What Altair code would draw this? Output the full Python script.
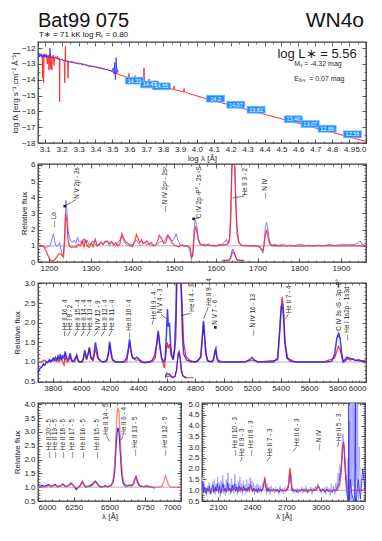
import altair as alt
import pandas as pd

FONT = "Liberation Sans"
INK = "#3c3c3c"
TXT = "#1e1e1e"
GRAY = "#a0a0a0"

# ---------------- header texts ----------------
star_name = ["Bat99 075"]
subtype = ["WN4o"]
params_line = ["T\u2217 =  71 kK   log R\u209c = 0.80"]
lum_label = [("log L\u2217 = 5.56", 4.945, -12.40)]
mv_parts = [("M", "v", "= -4.32 mag", 4.575, -13.03)]
ebv_parts = [("E", "b-v", "= 0.07 mag", 4.575, -13.98)]
cont_level = [1.0]

# ---------------- panel 1: SED (log lambda, log f) ----------------
sed_model = [(3.060,-12.45),(3.070,-12.48),(3.080,-12.40),(3.085,-12.52),(3.088,-13.90),(3.090,-12.50),
 (3.093,-14.20),(3.096,-12.45),(3.100,-12.35),(3.105,-12.55),(3.110,-12.40),(3.115,-13.00),(3.118,-12.50),
 (3.122,-12.60),(3.125,-13.40),(3.128,-12.55),(3.132,-12.35),(3.135,-13.30),(3.138,-12.60),(3.142,-13.40),
 (3.145,-12.60),(3.150,-12.45),(3.155,-13.10),(3.158,-12.60),(3.165,-12.55),(3.170,-12.65),(3.175,-12.50),
 (3.180,-12.70),(3.186,-12.65),(3.188,-15.40),(3.190,-12.70),(3.196,-12.75),(3.200,-12.70),(3.210,-12.80),
 (3.215,-12.75),(3.218,-14.20),(3.220,-12.80),(3.222,-11.90),(3.224,-12.80),(3.230,-12.85),(3.236,-12.80),
 (3.238,-13.90),(3.240,-12.85),(3.250,-12.90),(3.260,-12.85),(3.280,-12.95),(3.300,-12.95),(3.320,-13.00),
 (3.340,-13.05),(3.360,-13.15),(3.380,-13.15),(3.400,-13.20),(3.420,-13.25),(3.440,-13.30),(3.460,-13.35),
 (3.480,-13.40),(3.500,-13.50),(3.520,-13.60),(3.540,-13.68),(3.560,-13.75),(3.580,-13.82),(3.596,-13.88),
 (3.598,-13.60),(3.600,-13.90),(3.620,-13.95),(3.632,-14.00),(3.634,-13.75),(3.636,-14.00),(3.660,-14.07),
 (3.685,-14.15),(3.687,-13.25),(3.689,-14.15),(3.700,-14.18),(3.715,-14.22),(3.717,-13.95),(3.719,-14.22),
 (3.735,-14.28),(3.750,-14.32),(3.752,-14.05),(3.754,-14.32),(3.780,-14.40),(3.804,-14.47),(3.806,-14.20),
 (3.808,-14.47),(3.833,-14.54),(3.835,-14.30),(3.837,-14.54),(3.863,-14.62),(3.865,-14.40),(3.867,-14.62),
 (3.900,-14.72),(3.922,-14.78),(3.924,-14.55),(3.926,-14.78),(3.950,-14.86),(4.000,-15.03),(4.100,-15.33),
 (4.200,-15.62),(4.300,-15.90),(4.400,-16.19),(4.500,-16.47),(4.600,-16.76),(4.700,-17.05),(4.800,-17.33),
 (4.900,-17.62),(5.000,-17.90)]
sed_obs = [(3.060,-12.50),(3.064,-12.30),(3.068,-12.55),(3.072,-12.35),(3.076,-12.52),(3.080,-12.38),
 (3.084,-12.60),(3.088,-12.42),(3.092,-12.55),(3.096,-12.40),(3.100,-12.58),(3.104,-12.45),(3.108,-12.62),
 (3.112,-12.48),(3.116,-12.55),(3.120,-12.45),(3.124,-12.60),(3.128,-12.50),(3.131,-12.00),(3.134,-12.62),
 (3.138,-12.52),(3.142,-12.60),(3.146,-12.55),(3.150,-12.64),(3.155,-12.58),(3.160,-12.66),(3.165,-12.60),
 (3.170,-12.68),(3.175,-12.62),(3.180,-12.72),(3.185,-12.66),(3.190,-12.74),(3.195,-12.70),(3.200,-12.76),
 (3.205,-12.72),(3.210,-12.80),(3.215,-12.76),(3.220,-12.82),(3.225,-12.78),(3.230,-12.86),(3.235,-12.82),
 (3.240,-12.88),(3.250,-12.86),(3.260,-12.92),(3.270,-12.90),(3.280,-12.98),(3.290,-12.96),(3.300,-13.02),
 (3.310,-12.98),(3.320,-13.06),(3.330,-13.02),(3.340,-13.10),(3.350,-13.06),(3.360,-13.14),(3.370,-13.10),
 (3.380,-13.18),(3.390,-13.14),(3.400,-13.22),(3.410,-13.20),(3.420,-13.28),(3.430,-13.24),(3.440,-13.32),
 (3.450,-13.30),(3.460,-13.38),(3.470,-13.34),(3.480,-13.42),(3.490,-13.40),(3.500,-13.48),(3.505,-13.25),
 (3.510,-13.65),(3.514,-12.90),(3.518,-14.00),(3.522,-12.60),(3.526,-13.60),(3.530,-13.35),(3.535,-13.55)]
phot_x = [3.63, 3.72, 3.79, 4.11, 4.23, 4.35, 4.57, 4.67, 4.77, 4.92]
phot_y = [-14.06, -14.30, -14.42, -15.20, -15.58, -15.90, -16.50, -16.80, -17.10, -17.45]
phot_lbl = ["14.31", "14.43", "14.55", "14.2", "14.07", "13.82", "13.46", "13.07", "12.86", "12.56"]

# ---------------- panel 2: UV ----------------
uv_obs = [(1174,0.95),(1180,1.0),(1186,0.98),(1192,0.9),(1198,0.95),(1203,1.0),(1208,1.5),(1211,1.75),
 (1214,1.3),(1218,0.95),(1222,1.0),(1226,1.2),(1229,0.8),(1232,0.45),(1235,0.5),(1238,1.8),(1241,3.8),
 (1243,3.3),(1246,2.0),(1249,1.5),(1253,1.3),(1257,1.2),(1261,1.35),(1265,1.15),(1269,1.55),(1272,1.25),
 (1276,1.3),(1280,1.1),(1284,1.45),(1288,1.2),(1292,1.35),(1296,1.05),(1300,1.1),(1305,1.3),(1310,1.15),
 (1315,1.0),(1320,1.1),(1325,1.25),(1330,1.05),(1335,1.3),(1340,1.2),(1345,1.0),(1350,1.25),(1355,1.1),
 (1360,1.0),(1365,1.2),(1370,1.35),(1375,1.6),(1380,1.3),(1385,1.1),(1390,1.0),(1395,1.1),(1400,1.05),
 (1405,1.2),(1410,1.35),(1415,1.15),(1420,1.0),(1425,1.1),(1430,1.2),(1435,1.05),(1440,1.15),(1445,1.0),
 (1450,1.05),(1455,1.0),(1460,1.1),(1465,1.2),(1470,1.3),(1475,1.25),(1480,1.45),(1485,1.7),(1490,1.5),
 (1495,1.3),(1500,1.4),(1505,1.75),(1510,1.3),(1515,1.05),(1520,1.0),(1525,0.95),(1530,1.0),(1535,0.9),
 (1539,0.6),(1542,0.15),(1545,0.6),(1548,2.0),(1551,2.6),(1554,2.3),(1558,1.5),(1562,1.15),(1567,1.05),
 (1572,1.1),(1578,1.05),(1585,1.0),(1592,1.05),(1600,1.0),(1608,1.05),(1615,1.1),(1620,1.2),(1625,1.4),
 (1629,1.15),(1633,1.5),(1636,3.2),(1639,6.3),(1642,6.3),(1645,6.3),(1648,4.0),(1651,2.2),(1655,1.3),
 (1660,1.05),(1666,1.0),(1672,1.05),(1680,1.0),(1690,0.98),(1700,1.0),(1706,0.95),(1710,0.8),(1713,0.55),
 (1716,1.2),(1719,2.2),(1722,2.45),(1725,2.0),(1728,1.4),(1732,1.1),(1737,1.05),(1742,1.1),(1748,1.0),
 (1755,1.05),(1762,1.1),(1770,1.0),(1778,1.05),(1786,1.0),(1795,1.05),(1805,1.1),(1815,1.0),(1825,1.05),
 (1835,0.98),(1845,1.05),(1855,1.0),(1865,1.05),(1875,1.08),(1885,1.02),(1895,1.05),(1905,1.1),(1915,1.05),
 (1925,1.08),(1935,1.1),(1942,1.2),(1946,1.3),(1950,1.1),(1955,1.05),(1960,1.02)]
uv_model = [(1174,1.0),(1182,1.02),(1188,0.95),(1193,0.7),(1198,0.4),(1203,0.15),(1207,0.05),(1212,0.1),
 (1216,0.2),(1220,0.35),(1224,0.5),(1228,0.5),(1232,0.4),(1235,0.3),(1238,1.3),(1240,3.0),(1243,2.6),
 (1246,1.4),(1249,1.0),(1254,0.9),(1260,0.95),(1265,0.9),(1270,1.1),(1275,1.0),(1280,1.3),(1284,0.95),
 (1288,1.4),(1292,1.0),(1297,0.9),(1302,1.2),(1306,0.95),(1311,1.4),(1316,1.0),(1320,1.05),(1325,1.2),
 (1330,1.1),(1335,1.25),(1340,1.3),(1345,1.15),(1350,1.25),(1355,1.05),(1360,1.2),(1365,1.0),(1370,1.1),
 (1375,1.75),(1379,1.45),(1384,1.25),(1390,1.15),(1395,1.0),(1400,0.95),(1405,1.2),(1410,1.7),(1414,1.45),
 (1418,1.2),(1422,1.35),(1426,1.15),(1430,1.2),(1435,1.3),(1440,1.1),(1445,1.2),(1450,1.0),(1455,1.05),
 (1460,1.25),(1465,1.65),(1470,1.45),(1475,1.15),(1480,1.2),(1485,1.6),(1490,1.45),(1495,1.2),(1500,1.05),
 (1505,1.0),(1510,0.95),(1515,1.0),(1520,1.05),(1525,1.0),(1530,1.0),(1535,0.95),(1539,0.85),(1542,0.3),
 (1545,0.4),(1548,1.5),(1551,2.2),(1554,2.0),(1558,1.4),(1562,1.1),(1568,1.05),(1575,1.0),(1582,1.1),
 (1590,1.0),(1600,1.0),(1610,1.05),(1620,1.05),(1628,1.1),(1633,1.3),(1636,2.8),(1639,6.3),(1642,6.3),
 (1645,6.3),(1648,3.5),(1651,1.8),(1655,1.2),(1660,1.05),(1670,1.0),(1690,1.0),(1700,0.98),(1706,0.9),
 (1710,0.75),(1713,0.7),(1716,1.1),(1719,1.7),(1722,2.0),(1725,1.6),(1729,1.1),(1735,1.0),(1745,1.02),
 (1760,1.0),(1800,0.98),(1850,1.0),(1900,1.0),(1960,1.0)]
uv_inset_obs = [(1616,0.1),(1625,0.1),(1632,0.12),(1636,0.3),(1640,0.8),(1644,0.6),(1648,0.25),(1652,0.12),(1660,0.1),(1668,0.1)]
uv_inset_model = [(1616,0.1),(1632,0.12),(1636,0.25),(1640,0.6),(1644,0.55),(1648,0.3),(1652,0.12),(1668,0.1)]
uv_labels = [("\u2014 L\u03b1", 1212, 2.15), ("N V 2p - 2s", 1267, 3.9), ("\u2014 N IV 2p\u00b2 - 2s\u00b2", 1479, 3.07),
 ("C IV 2p \u00b2P\u00b0 - 2s \u00b2S", 1561, 2.7), ("He II 3 - 2", 1671, 4.1), ("\u2014 N IV", 1719, 3.9)]
uv_pointers = [(1238, 3.45, 1265, 3.85), (1547, 2.66, 1559, 2.72), (1640, 3.95, 1669, 4.08)]
uv_dots = [(1238, 3.45), (1547, 2.66)]

# ---------------- panel 3: optical ----------------
opt_obs = [(3697,0.72),(3705,0.8),(3715,0.85),(3725,0.88),(3735,0.95),(3745,0.92),(3755,1.0),(3765,0.98),
 (3775,1.05),(3785,1.0),(3795,1.05),(3805,1.1),(3812,1.05),(3820,1.12),(3830,1.05),(3838,1.15),(3846,1.08),
 (3854,1.2),(3862,1.05),(3870,1.15),(3878,1.1),(3888,1.27),(3898,1.1),(3905,1.05),(3915,1.12),(3923,1.22),
 (3932,1.05),(3945,1.02),(3958,1.08),(3968,1.18),(3978,1.05),(3990,1.0),(4005,1.0),(4015,1.08),(4026,1.3),
 (4036,1.1),(4045,1.15),(4058,1.35),(4068,1.1),(4080,1.05),(4090,1.2),(4100,1.5),(4110,1.3),(4120,1.1),
 (4140,1.02),(4160,1.0),(4180,1.05),(4192,1.2),(4200,1.52),(4208,1.3),(4220,1.05),(4240,1.0),(4270,1.0),
 (4300,1.0),(4320,1.1),(4332,1.35),(4340,1.58),(4348,1.35),(4360,1.1),(4375,1.08),(4390,1.12),(4405,1.08),
 (4420,1.0),(4450,0.98),(4480,1.0),(4500,1.05),(4515,1.15),(4530,1.45),(4541,1.8),(4552,1.45),(4565,1.1),
 (4580,1.0),(4590,1.1),(4600,1.8),(4606,2.35),(4612,1.9),(4620,2.0),(4627,1.5),(4635,1.2),(4645,1.05),
 (4655,1.3),(4665,2.2),(4672,3.5),(4680,3.5),(4695,3.5),(4705,2.6),(4712,1.6),(4720,1.2),(4740,1.05),
 (4760,1.02),(4780,1.0),(4800,1.0),(4820,1.02),(4840,1.15),(4850,1.6),(4859,2.05),(4866,1.7),(4875,1.2),
 (4890,1.02),(4910,1.0),(4930,1.05),(4940,1.3),(4946,1.35),(4952,1.15),(4965,1.0),(5000,1.0),(5050,1.0),
 (5100,1.0),(5150,1.0),(5180,1.05),(5200,1.12),(5215,1.05),(5240,1.0),(5300,1.0),(5350,1.0),(5380,1.1),
 (5395,1.8),(5405,2.4),(5412,2.45),(5420,2.2),(5430,1.5),(5445,1.1),(5470,1.02),(5520,1.0),(5600,1.0),
 (5660,1.0),(5720,1.0),(5760,1.02),(5780,1.2),(5795,1.6),(5806,1.72),(5818,1.6),(5830,1.2),(5840,1.0),
 (5850,1.05),(5865,1.12),(5880,1.1),(5900,1.08),(5920,1.05),(5950,1.03),(5980,1.02),(6000,1.0)]
opt_model = [(3697,1.0),(3720,1.0),(3740,1.05),(3760,1.0),(3780,1.05),(3800,1.02),(3812,1.08),(3825,1.0),
 (3835,1.1),(3845,1.0),(3858,1.12),(3870,1.0),(3880,0.92),(3888,1.2),(3895,1.0),(3910,1.0),(3923,1.15),
 (3935,1.0),(3955,1.0),(3968,1.15),(3980,1.0),(4010,1.0),(4026,1.25),(4040,1.05),(4058,1.38),(4070,1.1),
 (4085,1.05),(4100,1.33),(4115,1.1),(4140,1.0),(4180,1.0),(4200,1.45),(4215,1.1),(4240,1.0),(4320,1.0),
 (4340,1.5),(4355,1.15),(4380,1.05),(4400,1.05),(4450,1.0),(4500,1.0),(4520,1.1),(4541,1.75),(4555,1.3),
 (4570,1.0),(4585,0.85),(4595,1.2),(4604,1.5),(4612,1.35),(4620,1.45),(4632,1.15),(4650,1.1),(4665,1.6),
 (4675,3.5),(4695,3.5),(4710,2.4),(4720,1.5),(4735,1.15),(4760,1.05),(4800,1.0),(4840,1.1),(4859,2.0),
 (4870,1.5),(4885,1.05),(4920,1.0),(4945,1.28),(4955,1.05),(5000,1.0),(5150,1.0),(5200,1.05),(5250,1.0),
 (5380,1.05),(5400,2.2),(5411,2.65),(5420,2.4),(5432,1.5),(5450,1.1),(5500,1.0),(5700,1.0),(5780,1.1),
 (5806,1.4),(5820,1.3),(5835,1.05),(5850,1.0),(5870,1.08),(5890,1.05),(5910,1.08),(5930,1.03),(5950,1.07),
 (5970,1.02),(6000,1.05)]
opt_inset_obs = [(4590,0.62),(4600,0.72),(4610,0.68),(4620,0.7),(4630,0.65),(4640,0.62),(4650,0.62),(4660,0.65),
 (4670,0.8),(4678,1.1),(4686,1.27),(4694,1.1),(4702,0.8),(4712,0.65),(4725,0.62),(4740,0.6)]
opt_inset_model = [(4590,0.6),(4600,0.65),(4610,0.62),(4620,0.65),(4640,0.6),(4660,0.62),(4672,0.85),(4680,1.2),
 (4688,1.27),(4695,1.15),(4705,0.8),(4715,0.65),(4730,0.6),(4760,0.6),(4790,0.6)]
opt_labels = [("He II 16 - 4", 3884, 1.80), ("He I 8 - 2", 3924, 1.80), ("He II 15 - 4", 3976, 1.80),
 ("He II 14 - 4", 4022, 1.80), ("He II 13 - 4", 4064, 1.80), ("N IV 12 - 9", 4118, 1.80),
 ("He II 12 - 4", 4165, 1.80), ("He II 11 - 4", 4217, 1.80), ("\u2014 He II 10 - 4", 4334, 1.59),
 ("He II 9 - 4", 4509, 2.09), ("N V 4 - 3", 4556, 2.24), ("He II 4 - 3", 4778, 2.28),
 ("He II 8 - 4", 4896, 2.43), ("N V 7 - 6", 4942, 1.95), ("\u2014 N IV 16 - 13", 5205, 1.67),
 ("He II 7 - 4", 5458, 2.24), ("\u2014 C IV 3s \u00b2S - 3p \u00b2P\u00b0", 5809, 1.59),
 ("\u2014 He I 1s2p - 1s3d", 5867, 1.54)]
opt_pointers = [(3884,1.66,3884,1.79),(3905,1.66,3924,1.79),(3955,1.66,3976,1.79),(4000,1.66,4022,1.79),
 (4040,1.66,4064,1.79),(4090,1.66,4118,1.79),(4140,1.66,4165,1.79),(4195,1.66,4217,1.79),
 (4498,1.95,4509,2.08),(4560,2.22,4598,2.1),(4700,2.18,4772,2.24),(4860,2.1,4893,2.4),(5435,2.1,5455,2.22)]
opt_dots = [(4942, 1.88)]

# ---------------- panel 4: red optical ----------------
red_obs = [(6000,1.05),(6015,1.03),(6030,1.07),(6045,1.02),(6060,1.06),(6075,1.1),(6090,1.03),(6105,1.05),
 (6120,1.1),(6135,1.02),(6150,1.04),(6165,1.06),(6175,1.12),(6188,1.04),(6200,1.03),(6215,1.06),(6230,1.15),
 (6242,1.1),(6255,1.0),(6268,0.92),(6282,1.0),(6296,1.06),(6310,1.2),(6322,1.08),(6335,1.0),(6350,1.03),
 (6365,1.06),(6380,1.1),(6392,1.18),(6402,1.22),(6412,1.15),(6425,1.05),(6440,1.0),(6455,1.02),(6470,1.05),
 (6485,1.01),(6500,1.04),(6512,1.06),(6525,1.2),(6535,1.5),(6545,2.4),(6553,3.0),(6560,3.15),(6567,3.0),
 (6575,2.3),(6585,1.5),(6595,1.15),(6610,1.05),(6625,1.04),(6640,1.08),(6655,1.05),(6668,1.12),(6678,1.3),
 (6686,1.38),(6695,1.2),(6705,1.08),(6720,1.03),(6740,1.02),(6760,1.05),(6780,1.02),(6800,0.99),(6815,0.97)]
red_model = [(6000,1.02),(6030,1.03),(6060,1.01),(6075,1.06),(6090,1.01),(6120,1.08),(6140,1.01),(6175,1.1),
 (6195,1.01),(6236,1.12),(6255,1.02),(6270,0.97),(6290,1.02),(6310,1.22),(6325,1.05),(6360,1.02),(6380,1.06),
 (6402,1.2),(6420,1.06),(6450,1.02),(6500,1.04),(6520,1.12),(6530,1.4),(6540,2.2),(6550,3.4),(6558,3.85),
 (6565,3.8),(6573,3.0),(6582,2.0),(6592,1.35),(6605,1.12),(6625,1.05),(6650,1.05),(6670,1.15),(6683,1.38),
 (6695,1.25),(6710,1.08),(6740,1.02),(6800,1.0),(6850,1.0),(6870,1.05),(6882,1.25),(6891,1.42),(6900,1.3),
 (6912,1.08),(6930,1.0),(7000,1.0)]
red_labels = [("\u2014 He II 20 - 5", 6075, 2.05), ("\u2014 He II 19 - 5", 6121, 2.05), ("\u2014 He II 18 - 5", 6172, 2.05),
 ("\u2014 He II 17 - 5", 6238, 2.05), ("\u2014 He II 16 - 5", 6312, 2.05), ("\u2014 He II 15 - 5", 6413, 2.05),
 ("He II 14 - 5", 6476, 2.9), ("He II 6 - 4", 6599, 2.9), ("\u2014 He II 13 - 5", 6680, 2.14),
 ("\u2014 He II 12 - 5", 6890, 2.14)]
red_pointers = [(6500, 2.65, 6478, 2.88), (6580, 2.7, 6597, 2.88)]

# ---------------- panel 5: near UV ----------------
nuv_raw = [(1960,1.0),(1965,1.6),(1970,0.8),(1978,1.3),(1985,0.9),(1992,1.1),(2000,0.75),(2008,1.2),(2015,0.9),
 (2022,1.35),(2030,0.8),(2038,1.1),(2045,0.85),(2052,1.4),(2060,0.9),(2068,1.5),(2075,0.8),(2082,1.3),(2090,1.0),
 (2098,1.6),(2105,0.85),(2112,1.35),(2120,0.7),(2128,1.45),(2135,0.9),(2142,1.7),(2150,0.85),(2158,1.25),
 (2165,0.75),(2172,1.5),(2180,1.0),(2188,1.8),(2195,0.9),(2202,1.3),(2210,0.8),(2218,1.55),(2225,0.95),
 (2232,1.2),(2240,0.85),(2248,1.75),(2255,1.0),(2262,1.3),(2270,0.8),(2278,1.4),(2285,0.95),(2292,1.6),
 (2300,0.9),(2308,1.3),(2315,0.8),(2322,1.45),(2330,1.0),(2338,1.25),(2345,0.85),(2352,1.5),(2360,0.95),
 (2368,1.3),(2375,0.9),(2382,1.6),(2390,1.05),(2398,1.45),(2405,0.9),(2412,1.35),(2420,0.8),(2428,1.2),
 (2435,0.95),(2442,1.3),(2450,0.85),(2458,1.25),(2465,0.9),(2472,1.2),(2480,0.85),(2490,1.3),(2500,1.1),
 (2508,1.6),(2514,1.55),(2520,1.1),(2528,0.8),(2535,1.3),(2542,0.9),(2550,1.15),(2558,0.8),(2565,1.2),
 (2575,0.95),(2585,1.1),(2595,0.85),(2605,1.15),(2615,0.9),(2625,1.05),(2635,0.8),(2645,1.2),(2655,0.9),
 (2665,1.1),(2675,0.85),(2685,1.15),(2695,0.95),(2705,1.1),(2715,1.0),(2722,1.4),(2728,1.85),(2734,1.9),
 (2740,1.4),(2748,0.95),(2755,1.1),(2765,0.85),(2775,1.05),(2785,0.9),(2795,1.1),(2805,0.85),(2815,1.05),
 (2825,0.9),(2835,1.15),(2845,0.85),(2855,1.1),(2865,0.9),(2875,1.2),(2885,0.85),(2895,1.05),(2905,0.9),
 (2915,1.15),(2925,0.8),(2935,1.1),(2945,0.95),(2955,1.2),(2965,1.0),(2975,1.3),(2985,1.2),(2995,1.0),
 (3005,0.85),(3015,1.1),(3025,0.9),(3035,1.15),(3045,0.8),(3055,1.2),(3065,0.9),(3075,1.1),(3085,0.75),
 (3095,1.3),(3105,0.9),(3115,1.2),(3125,0.8),(3135,1.35),(3145,1.0),(3155,1.8),(3162,1.4),(3170,2.2),
 (3178,1.6),(3185,2.6),(3192,3.4),(3198,3.6),(3205,3.0),(3212,2.4),(3220,1.6),(3228,1.0),(3235,0.7),
 (3242,2.5),(3248,0.6),(3255,4.2),(3260,0.5),(3266,6.0),(3272,0.4),(3278,5.5),(3285,1.2),(3290,6.0),
 (3296,0.5),(3302,4.8),(3308,2.0),(3314,6.0),(3320,1.5),(3326,5.0),(3332,0.5),(3340,3.0),(3350,1.0)]
nuv_obs = [(1960,1.0),(1968,1.4),(1975,0.9),(1985,1.15),(1995,0.85),(2005,1.1),(2015,0.95),(2025,1.2),(2035,0.85),
 (2045,1.05),(2055,1.25),(2065,0.9),(2075,1.15),(2085,0.95),(2095,1.3),(2105,0.9),(2115,1.2),(2125,0.85),
 (2135,1.1),(2145,1.3),(2155,0.95),(2165,1.1),(2175,0.9),(2185,1.35),(2195,1.0),(2205,1.1),(2215,0.9),
 (2225,1.25),(2235,1.0),(2245,1.3),(2255,0.95),(2265,1.15),(2275,0.9),(2285,1.2),(2295,1.0),(2305,1.15),
 (2315,0.95),(2325,1.2),(2335,1.0),(2345,1.1),(2355,0.95),(2365,1.15),(2375,1.0),(2385,1.25),(2395,1.1),
 (2405,0.95),(2415,1.1),(2425,0.95),(2435,1.05),(2445,0.9),(2455,1.1),(2465,0.95),(2475,1.05),(2485,0.95),
 (2495,1.1),(2505,1.4),(2512,1.5),(2520,1.15),(2530,0.95),(2540,1.1),(2550,0.95),(2560,1.05),(2575,0.95),
 (2590,1.05),(2605,0.95),(2620,1.05),(2635,0.9),(2650,1.05),(2665,0.95),(2680,1.0),(2695,0.95),(2710,1.05),
 (2722,1.3),(2730,1.75),(2736,1.8),(2742,1.3),(2750,1.0),(2765,0.95),(2780,1.0),(2795,0.9),(2810,1.0),
 (2825,0.95),(2840,1.05),(2855,0.95),(2870,1.05),(2885,0.9),(2900,1.0),(2915,1.05),(2930,0.95),(2945,1.05),
 (2960,1.0),(2975,1.2),(2985,1.15),(2995,1.0),(3010,0.95),(3025,1.05),(3040,0.9),(3055,1.05),(3070,0.95),
 (3085,1.0),(3100,0.9),(3115,1.05),(3130,0.95),(3145,1.1),(3160,1.3),(3172,1.7),(3182,2.0),(3192,2.8),
 (3200,3.2),(3207,2.9),(3215,2.0),(3225,1.2),(3235,0.8),(3244,0.3),(3247,5.5),(3250,0.3),(3260,1.5),
 (3275,0.8),(3300,0.3),(3305,5.5),(3310,0.3),(3330,1.5),(3350,0.6),(3370,2.0),(3390,1.0)]
nuv_model = [(1960,1.0),(2230,1.0),(2250,1.08),(2270,1.0),(2295,1.0),(2308,1.12),(2320,1.0),(2370,1.0),
 (2385,1.22),(2398,1.0),(2490,1.0),(2502,1.2),(2511,1.6),(2520,1.25),(2530,1.05),(2545,1.0),(2700,1.0),
 (2718,1.2),(2727,1.9),(2733,2.05),(2740,1.7),(2750,1.1),(2765,1.0),(2960,1.0),(2975,1.12),(2985,1.15),
 (2995,1.05),(3010,1.0),(3150,1.0),(3170,1.3),(3185,2.2),(3195,3.1),(3203,3.25),(3210,2.9),(3222,1.8),
 (3235,1.1),(3250,1.0),(3390,1.0)]
nuv_labels = [("\u2014 He II 10 - 3", 2252, 2.58), ("He II 9 - 3", 2311, 2.58), ("\u2014 He II 8 - 3", 2390, 2.58),
 ("He II 7 - 3", 2559, 2.58), ("He II 6 - 3", 2793, 3.05), ("\u2014 N IV", 2984, 2.85), ("He II 5 - 3", 3159, 3.28)]
nuv_pointers = [(2300, 2.35, 2311, 2.55), (2530, 2.35, 2557, 2.55), (2760, 2.8, 2790, 3.02), (3150, 3.0, 3158, 3.25)]


# ---------------- helpers ----------------
def scales(xdom, ydom):
    return (alt.Scale(domain=xdom, nice=False, zero=False),
            alt.Scale(domain=ydom, nice=False, zero=False))


def XE(f, s, ax=None):
    return alt.X(f + ":Q", scale=s, axis=ax)


def YE(f, s, ax=None):
    return alt.Y(f + ":Q", scale=s, axis=ax)


def line(pts, xs, ys, color, width, opacity=1.0, xax=None, yax=None):
    d = pd.DataFrame(pts, columns=["x", "y"])
    return alt.Chart(d).mark_line(color=color, strokeWidth=width, opacity=opacity, clip=True).encode(
        x=XE("x", xs, xax), y=YE("y", ys, yax))


def continuum(ys):
    d = pd.DataFrame({"y": cont_level})
    return alt.Chart(d).mark_rule(color=GRAY, strokeWidth=0.8).encode(y=YE("y", ys))


def rot_labels(items, xs, ys, size=6.3):
    d = pd.DataFrame(items, columns=["t", "x", "y"])
    return alt.Chart(d).mark_text(angle=270, align="left", baseline="middle", fontSize=size,
                                  font=FONT, color=TXT).encode(x=XE("x", xs), y=YE("y", ys), text="t:N")


def pointers(items, xs, ys):
    d = pd.DataFrame(items, columns=["x", "y", "x2", "y2"])
    return alt.Chart(d).mark_rule(color=TXT, strokeWidth=0.6).encode(
        x=XE("x", xs), y=YE("y", ys), x2="x2:Q", y2="y2:Q")


def dots(items, xs, ys):
    d = pd.DataFrame(items, columns=["x", "y"])
    return alt.Chart(d).mark_square(size=7, color=TXT, opacity=1).encode(x=XE("x", xs), y=YE("y", ys))


MAJOR = dict(ticks=True, tickSize=4, tickColor=INK, tickWidth=0.8, offset=-4, domain=False, grid=False)
MINOR = dict(ticks=True, tickSize=2, tickColor=INK, tickWidth=0.7, offset=-2, domain=False, grid=False,
             labels=False, title=None)


def xaxis(vals, fmt, title, flush=False):
    return alt.Axis(values=vals, format=fmt, title=title, orient="bottom", labelPadding=2, titlePadding=1,
                    labelFlush=flush, **MAJOR)


def yaxis(vals, fmt, title):
    return alt.Axis(values=vals, format=fmt, title=title, orient="left", labelPadding=3, titlePadding=2,
                    **MAJOR)


def mirror(vals, orient):
    return alt.Axis(values=vals, orient=orient, labels=False, title=None, **MAJOR)


def minor(vals, orient):
    return alt.Axis(values=vals, orient=orient, **MINOR)


def minor_layers(pts, xs, ys, xmin, ymin):
    return [line(pts, xs, ys, "#000000", 1, 0.0, xax=minor(xmin, "bottom"), yax=minor(ymin, "left")),
            line(pts, xs, ys, "#000000", 1, 0.0, xax=minor(xmin, "top"), yax=minor(ymin, "right"))]


def steps(a, b, s, nd=2):
    n = int(round((b - a) / s))
    return [round(a + i * s, nd) for i in range(n + 1)]


# ---------------- panel 1 ----------------
W = 328
H1, H2, H3, H4 = 101, 98, 99, 98
xs1, ys1 = scales([3.06, 5.0], [-18, -11.62])
X1, Y1 = steps(3.1, 5.0, 0.1), steps(-18, -12, 1)
ph = pd.DataFrame({"x": phot_x, "y": phot_y, "t": phot_lbl})
boxes = alt.Chart(ph).mark_point(shape="M-1,-0.38H1V0.38H-1Z", size=324, filled=True, fill="#1e8fff",
                                 stroke="#79bbff", strokeWidth=0.8, opacity=1).encode(
    x=XE("x", xs1), y=YE("y", ys1))
box_txt = alt.Chart(ph).mark_text(fontSize=5.5, color="white", font=FONT).encode(
    x=XE("x", xs1), y=YE("y", ys1), text="t:N")
lum = pd.DataFrame(lum_label, columns=["t", "x", "y"])
lum_txt = alt.Chart(lum).mark_text(fontSize=13, align="right", baseline="middle", font=FONT, color=TXT).encode(
    x=XE("x", xs1), y=YE("y", ys1), text="t:N")
sub_layers = []
for parts in (mv_parts, ebv_parts):
    d = pd.DataFrame(parts, columns=["a", "b", "c", "x", "y"])
    sub_layers.append(alt.Chart(d).mark_text(fontSize=7, align="left", baseline="middle", font=FONT, color=TXT)
                      .encode(x=XE("x", xs1), y=YE("y", ys1), text="a:N"))
    dx_b = 6 if parts is mv_parts else 5
    dx_c = 10 if parts is mv_parts else 15
    sub_layers.append(alt.Chart(d).mark_text(fontSize=4.5, align="left", baseline="middle", font=FONT, color=TXT,
                                             dx=dx_b, dy=2).encode(x=XE("x", xs1), y=YE("y", ys1), text="b:N"))
    sub_layers.append(alt.Chart(d).mark_text(fontSize=7, align="left", baseline="middle", font=FONT, color=TXT,
                                             dx=dx_c).encode(x=XE("x", xs1), y=YE("y", ys1), text="c:N"))
head1 = alt.Chart(pd.DataFrame({"t": star_name})).mark_text(
    fontSize=20, align="left", baseline="alphabetic", font=FONT, color="#111").encode(
    x=alt.value(0), y=alt.value(-15), text="t:N")
head2 = alt.Chart(pd.DataFrame({"t": subtype})).mark_text(
    fontSize=21, align="right", baseline="alphabetic", font=FONT, color="#111").encode(
    x=alt.value(W - 2), y=alt.value(-15), text="t:N")
head3 = alt.Chart(pd.DataFrame({"t": params_line})).mark_text(
    fontSize=8, align="left", baseline="alphabetic", font=FONT, color="#111").encode(
    x=alt.value(1), y=alt.value(-5), text="t:N")

p1 = alt.layer(
    line(sed_model, xs1, ys1, "#ff3030", 1.0,
         xax=xaxis(X1, ".1f", "log \u03bb [\u00c5]", True),
         yax=yaxis(Y1, "d", "log f\u03bb [erg s\u207b\u00b9 cm\u207b\u00b2 \u00c5\u207b\u00b9]")),
    line(sed_obs, xs1, ys1, "#3b2bff", 1.0, 0.8, xax=mirror(X1, "top"), yax=mirror(Y1, "right")),
    *minor_layers(sed_model, xs1, ys1, steps(3.15, 4.95, 0.1), steps(-17.5, -11.5, 0.5)[:-1]),
    boxes, box_txt, lum_txt, *sub_layers, head1, head2, head3,
).resolve_axis(x="independent", y="independent").properties(width=W, height=H1)

# ---------------- panel 2 ----------------
xs2, ys2 = scales([1174, 1960], [0, 6.05])
X2, Y2 = steps(1200, 1900, 100), steps(0, 6, 1)
p2 = alt.layer(
    line(uv_obs, xs2, ys2, "#7d7dff", 1.0,
         xax=xaxis(X2, "d", None), yax=yaxis(Y2, "d", "Relative flux")),
    continuum(ys2),
    line(uv_model, xs2, ys2, "#ff2020", 1.3, 0.8, xax=mirror(X2, "top"), yax=mirror(Y2, "right")),
    *minor_layers(uv_model, xs2, ys2, steps(1180, 1960, 20), steps(0.2, 6.0, 0.2)),
    line(uv_inset_obs, xs2, ys2, "#5a5aff", 1.0),
    line(uv_inset_model, xs2, ys2, "#ff2020", 1.2, 0.8),
    rot_labels(uv_labels, xs2, ys2), pointers(uv_pointers, xs2, ys2), dots(uv_dots, xs2, ys2),
).resolve_axis(x="independent", y="independent").properties(width=W, height=H2)

# ---------------- panel 3 ----------------
xs3, ys3 = scales([3697, 6000], [0.49, 3.01])
X3, Y3 = steps(3800, 6000, 200), steps(0.5, 3.0, 0.5)
p3 = alt.layer(
    line(opt_model, xs3, ys3, "#ff3030", 1.2,
         xax=xaxis(X3, "d", None, True), yax=yaxis(Y3, ".1f", "Relative flux")),
    continuum(ys3),
    line(opt_obs, xs3, ys3, "#1f1fff", 1.5, 0.85, xax=mirror(X3, "top"), yax=mirror(Y3, "right")),
    *minor_layers(opt_model, xs3, ys3, steps(3700, 6000, 50), steps(0.5, 3.0, 0.1)),
    line(opt_inset_model, xs3, ys3, "#ff3030", 1.1),
    line(opt_inset_obs, xs3, ys3, "#1f1fff", 1.2, 0.85),
    rot_labels(opt_labels, xs3, ys3), pointers(opt_pointers, xs3, ys3), dots(opt_dots, xs3, ys3),
).resolve_axis(x="independent", y="independent").properties(width=W, height=H3)

# ---------------- panel 4 ----------------
W4, W5 = 143, 163
xs4, ys4 = scales([6000, 7000], [0.5, 4.05])
X4, Y4 = steps(6000, 7000, 250), steps(0.5, 4.0, 0.5)
p4 = alt.layer(
    line(red_obs, xs4, ys4, "#2626ff", 1.3,
         xax=xaxis(X4, "d", "\u03bb [\u00c5]", True), yax=yaxis(Y4, ".1f", "Relative flux")),
    continuum(ys4),
    line(red_model, xs4, ys4, "#ff4a4a", 1.3, 0.7, xax=mirror(X4, "top"), yax=mirror(Y4, "right")),
    *minor_layers(red_model, xs4, ys4, steps(6000, 7000, 50), steps(0.5, 4.0, 0.1)),
    rot_labels(red_labels, xs4, ys4), pointers(red_pointers, xs4, ys4),
).resolve_axis(x="independent", y="independent").properties(width=W4, height=H4)

# ---------------- panel 5 ----------------
xs5, ys5 = scales([1960, 3390], [0.5, 5.05])
X5, Y5 = steps(2100, 3300, 300), steps(0.5, 5.0, 0.5)
p5 = alt.layer(
    line(nuv_raw, xs5, ys5, "#a9a9ff", 1.0,
         xax=xaxis(X5, "d", "\u03bb [\u00c5]"), yax=yaxis(Y5, ".1f", None)),
    continuum(ys5),
    line(nuv_obs, xs5, ys5, "#3030ff", 0.9, xax=mirror(X5, "top"), yax=mirror(Y5, "right")),
    *minor_layers(nuv_model, xs5, ys5, steps(2000, 3350, 50), steps(0.5, 5.0, 0.1)),
    line(nuv_model, xs5, ys5, "#ff3030", 1.2, 0.8),
    rot_labels(nuv_labels, xs5, ys5), pointers(nuv_pointers, xs5, ys5),
).resolve_axis(x="independent", y="independent").properties(width=W5, height=H4)

bottom = alt.hconcat(p4, p5, spacing=21, bounds="flush")
chart = alt.vconcat(p1, p2, p3, bottom, spacing=21, bounds="flush").properties(
    padding={"left": 2, "top": 1, "right": 0, "bottom": 0}
).configure_view(stroke="#3a3a3a", strokeWidth=1.3).configure_axis(
    labelFont=FONT, titleFont=FONT, labelFontSize=8, titleFontSize=8, labelColor=TXT, titleColor=TXT,
    titleFontWeight="normal"
)

chart.save("out.html", embed_options={"renderer": "svg", "actions": False})
